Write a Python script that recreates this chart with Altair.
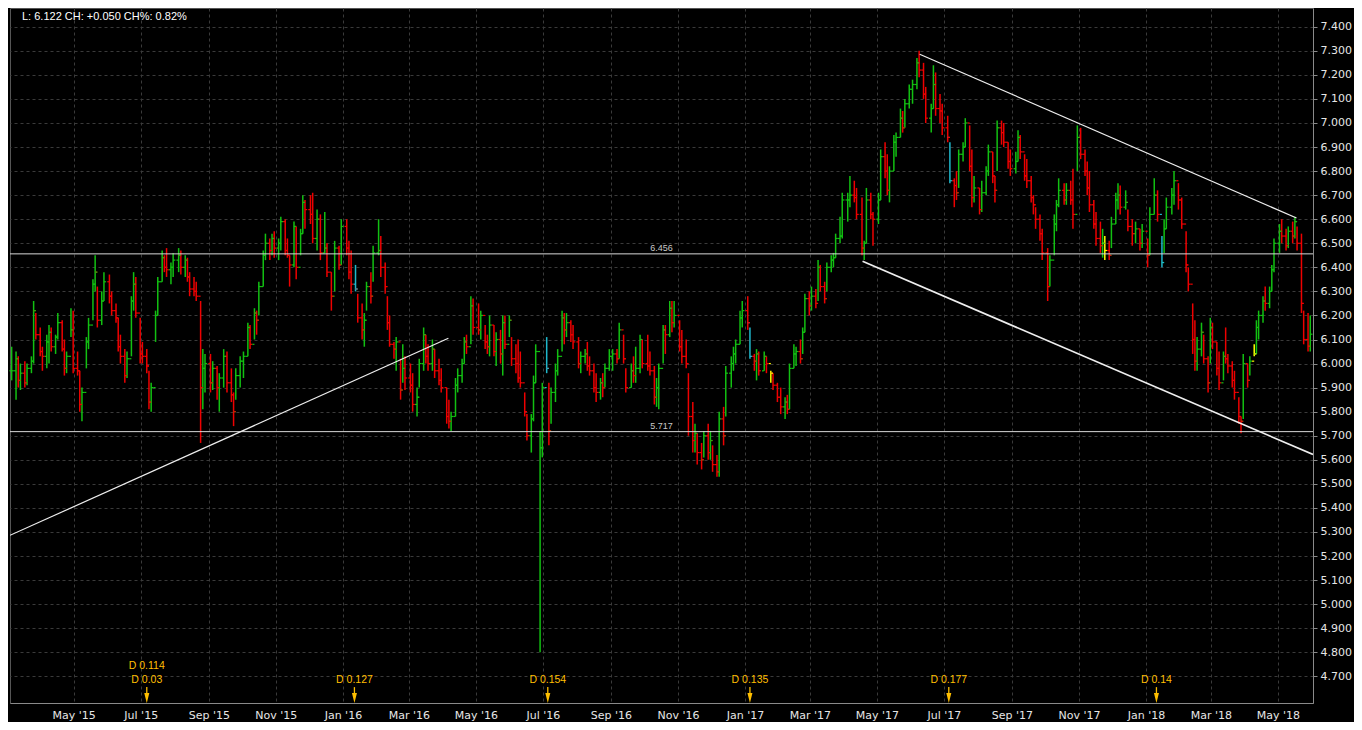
import altair as alt
import pandas as pd

# ---- daily-ish OHLC bars, grouped by month: (high, low, close) in price x 100 ----
b2015_03 = [(607,593,597),(605,585,602),(603,590,593),(600,589,596),(601,590,592),(600,591,598),(603,596,601),(626,600,622),(621,610,612),(615,603,605)]
b2015_04 = [(607,597,603),(612,598,609),(616,600,613),(615,605,607),(612,604,611),(621,610,617),(618,605,606),(610,595,598),(605,596,603),(623,611,614),(622,596,598)]
b2015_05 = [(605,595,597),(597,580,583),(590,576,588),(611,598,609),(619,606,616),(635,618,633),(645,630,638),(632,615,618),(630,616,626),(638,626,634)]
b2015_06 = [(637,625,628),(630,620,622),(625,617,619),(619,605,607),(612,600,603),(606,592,595),(605,594,602),(628,603,626),(638,622,633),(636,619,621),(619,600,604)]
b2015_07 = [(609,600,603),(606,596,599),(597,581,584),(592,580,590),(622,609,620),(636,620,634),(647,634,644),(645,638,640),(648,636,639),(642,633,640),(646,636,643)]
b2015_08 = [(648,638,645),(647,637,640),(645,636,643),(644,634,636),(638,628,631),(636,628,630),(634,626,628),(626,567,590),(606,581,598),(604,588,600)]
b2015_09 = [(604,588,592),(601,589,598),(599,585,590),(596,580,594),(606,590,603),(605,588,592),(598,584,587),(588,574,580),(598,585,595),(603,590,601)]
b2015_10 = [(605,594,603),(617,603,615),(616,606,608),(623,610,621),(622,612,618),(634,620,632),(647,632,645),(654,643,650),(652,643,647),(654,645,652),(655,644,648)]
b2015_11 = [(652,643,650),(661,647,659),(660,645,647),(652,644,645),(645,632,641),(659,640,657),(657,635,640),(656,645,654),(670,654,667),(668,656,664)]
b2015_12 = [(670,658,662),(671,650,652),(664,647,660),(662,643,646),(663,646,648),(650,636,638),(638,622,628),(651,630,648),(649,639,641),(660,641,657)]
b2016_01 = [(660,645,648),(651,635,638),(647,629,633),(641,630,631),(629,617,619),(625,610,614),(621,607,618),(634,622,632),(638,625,628),(649,634,646)]
b2016_02 = [(660,645,647),(653,636,640),(642,629,632),(628,614,617),(620,607,608),(609,602,606),(611,597,609),(602,585,589),(608,592,598),(603,589,594)]
b2016_03 = [(600,588,591),(596,580,583),(590,578,586),(602,590,600),(615,597,612),(612,600,603),(608,597,600),(610,597,606),(606,594,597),(602,591,593),(598,588,590)]
b2016_04 = [(590,575,578),(585,573,576),(580,572,578),(594,578,591),(598,588,595),(602,592,600),(611,600,609),(612,604,607),(628,608,624),(627,612,615)]
b2016_05 = [(625,612,614),(622,610,620),(616,606,609),(612,604,607),(620,603,616),(616,603,605),(613,599,610),(614,600,604),(620,595,617),(620,606,608),(620,611,618)]
b2016_06 = [(611,599,602),(608,596,600),(610,592,594),(605,590,592),(588,578,580),(579,568,570),(579,563,577),(595,576,592),(608,592,605),(572,480,565),(592,561,590)]
b2016_07 = [(611,596,598),(592,566,572),(590,575,588),(600,584,597),(606,595,603),(622,605,619),(621,608,614),(621,611,617),(618,609,612),(616,606,609)]
b2016_08 = [(611,598,600),(605,596,603),(606,600,604),(609,597,599),(603,595,597),(600,588,590),(596,584,588),(594,585,592),(596,586,590),(600,590,598),(606,597,603)]
b2016_09 = [(606,597,604),(606,600,602),(617,602,614),(612,600,602),(598,588,590),(600,590,597),(603,592,595),(607,592,598),(612,596,610),(610,598,600)]
b2016_10 = [(612,597,599),(605,595,597),(599,583,586),(594,582,590),(600,581,598),(616,600,614),(616,604,612),(626,611,623),(626,613,617),(626,615,620)]
b2016_11 = [(618,605,607),(614,600,603),(610,598,600),(596,570,578),(584,563,568),(575,563,571),(571,558,563),(567,556,560),(572,561,570),(575,560,563),(572,560,568)]
b2016_12 = [(566,555,558),(562,553,555),(580,553,577),(582,566,570),(599,578,596),(603,590,600),(607,597,604),(610,600,608),(622,608,619),(626,615,622)]
b2017_01 = [(628,614,617),(615,602,603),(604,597,601),(606,593,604),(605,595,597),(605,597,603),(603,596,600),(597,592,596),(596,589,591),(592,584,586)]
b2017_02 = [(590,579,582),(586,577,584),(587,579,581),(600,581,598),(608,598,604),(607,599,605),(610,600,602),(615,604,613),(629,613,627),(630,620,624)]
b2017_03 = [(632,622,628),(631,623,625),(643,626,640),(641,630,632),(634,625,627),(642,630,640),(645,638,643),(646,640,644),(654,644,652),(661,650,653),(671,652,668)]
b2017_04 = [(671,659,668),(678,665,670),(676,667,669),(673,660,662),(669,645,648),(651,643,650),(673,650,668),(671,660,662),(663,649,660)]
b2017_05 = [(671,658,668),(689,668,686),(692,677,680),(687,670,672),(682,667,680),(695,680,692),(696,686,694),(706,694,702),(705,696,698),(710,698,708),(716,706,714)]
b2017_06 = [(718,708,716),(727,714,725),(730,719,722),(725,710,712),(715,700,702),(708,696,706),(724,706,716),(721,703,706),(712,700,705),(708,695,698)]
b2017_07 = [(703,692,694),(692,675,676),(677,665,674),(680,668,671),(689,673,687),(692,684,690),(702,690,700),(699,680,682),(689,665,669),(678,667,673)]
b2017_08 = [(673,662,664),(676,663,671),(682,670,680),(691,678,688),(688,675,678),(678,667,672),(701,680,698),(701,691,696),(700,690,692),(692,681,684),(689,678,681)]
b2017_09 = [(688,679,684),(697,684,694),(695,685,688),(687,676,678),(685,673,676),(678,667,669),(670,662,666),(665,656,660),(662,651,654),(656,643,646)]
b2017_10 = [(648,626,632),(645,632,643),(662,645,658),(668,655,666),(677,665,672),(675,666,668),(675,666,672),(676,666,668),(681,656,662),(699,680,694)]
b2017_11 = [(698,685,687),(689,678,680),(684,670,673),(680,663,666),(668,656,658),(663,649,652),(659,646,649),(656,644,650),(653,643,647),(651,643,645),(661,648,658)]
b2017_12 = [(671,658,668),(675,664,670),(674,662,665),(672,664,667),(664,655,657),(660,649,654),(659,650,656),(656,647,650),(658,648,655)]
b2018_01 = [(652,640,645),(665,645,662),(677,662,670),(672,659,662),(653,640,642),(660,646,656),(669,656,665),(673,662,670),(680,666,676),(675,664,668)]
b2018_02 = [(669,656,658),(655,638,641),(640,630,633),(625,604,610),(618,597,601),(611,597,606),(617,603,613),(612,600,602),(603,588,592),(619,600,615)]
b2018_03 = [(617,606,609),(609,595,598),(605,589,592),(605,593,603),(615,600,602),(604,596,599),(601,590,593),(597,585,588),(586,575,578),(578,571,576),(604,577,600)]
b2018_04 = [(600,590,593),(603,595,601),(608,603,604),(618,604,615),(622,610,620),(628,617,626),(632,622,625),(632,623,630),(641,630,639),(652,638,650)]
b2018_05 = [(658,646,655),(660,650,653),(656,647,649),(657,648,655),(659,650,653),(661,652,659),(657,647,650),(654,621,625),(622,608,610),(621,605,607.2),(620,605,612.2)]

MONTHS = [
    ("2015-03", b2015_03), ("2015-04", b2015_04), ("2015-05", b2015_05), ("2015-06", b2015_06),
    ("2015-07", b2015_07), ("2015-08", b2015_08), ("2015-09", b2015_09), ("2015-10", b2015_10),
    ("2015-11", b2015_11), ("2015-12", b2015_12), ("2016-01", b2016_01), ("2016-02", b2016_02),
    ("2016-03", b2016_03), ("2016-04", b2016_04), ("2016-05", b2016_05), ("2016-06", b2016_06),
    ("2016-07", b2016_07), ("2016-08", b2016_08), ("2016-09", b2016_09), ("2016-10", b2016_10),
    ("2016-11", b2016_11), ("2016-12", b2016_12), ("2017-01", b2017_01), ("2017-02", b2017_02),
    ("2017-03", b2017_03), ("2017-04", b2017_04), ("2017-05", b2017_05), ("2017-06", b2017_06),
    ("2017-07", b2017_07), ("2017-08", b2017_08), ("2017-09", b2017_09), ("2017-10", b2017_10),
    ("2017-11", b2017_11), ("2017-12", b2017_12), ("2018-01", b2018_01), ("2018-02", b2018_02),
    ("2018-03", b2018_03), ("2018-04", b2018_04), ("2018-05", b2018_05),
]

# bars drawn in a special colour in the reference
SPECIAL = {
    ("2016-01", 3): "cyan", ("2016-06", 9): "up", ("2016-07", 0): "cyan",
    ("2017-01", 1): "cyan", ("2017-01", 7): "yellow", ("2017-07", 1): "cyan",
    ("2017-11", 8): "yellow", ("2018-01", 4): "cyan", ("2018-04", 2): "yellow",
}

# trend lines (start date, start price, end date, end price)
TREND_START = ["2015-03-04", "2017-06-09", "2017-04-18"]
TREND_START_V = [5.286, 7.286, 6.425]
TREND_END = ["2016-04-06", "2018-05-18", "2018-06-02"]
TREND_END_V = [6.105, 6.605, 5.622]
TREND_W = [1.2, 1.2, 1.7]

# horizontal levels
LEVELS = [6.456, 5.717]
LEVEL_LABELS = ["6.456", "5.717"]

# dividends
DIV_DATES = ["2015-07-06", "2016-01-11", "2016-07-05", "2017-01-05", "2017-07-05", "2018-01-10"]
DIV_LABELS = ["D 0.03", "D 0.127", "D 0.154", "D 0.135", "D 0.177", "D 0.14"]
DIV_EXTRA_DATE = ["2015-07-06"]
DIV_EXTRA_LABEL = ["D 0.114"]

HEADER = "L: 6.122 CH: +0.050 CH%: 0.82%"

# ---- build bar table ----
rows = []
prev = None
for key, bars in MONTHS:
    start = pd.Timestamp(key + "-01")
    end = start + pd.offsets.MonthEnd(0)
    if key == "2015-03":
        start = pd.Timestamp("2015-03-04")
    if key == "2018-05":
        end = pd.Timestamp("2018-05-30")
    days = pd.bdate_range(start, end)
    n = len(bars)
    for i, (h, l, c) in enumerate(bars):
        d = days[int((i + 0.5) * len(days) / n)]
        o = prev if prev is not None else c
        kind = SPECIAL.get((key, i), "up" if c >= o else "down")
        rows.append({"date": d.strftime("%Y-%m-%dT12:00:00"), "high": h / 100, "low": l / 100,
                     "close": c / 100, "open": o / 100, "kind": kind})
        prev = c
bars_df = pd.DataFrame(rows)

trend_df = pd.DataFrame({"d1": [s + "T00:00:00" for s in TREND_START], "v1": TREND_START_V,
                         "d2": [s + "T00:00:00" for s in TREND_END], "v2": TREND_END_V, "w": TREND_W})
level_df = pd.DataFrame({"v": LEVELS, "lab": LEVEL_LABELS, "d": ["2016-10-17T00:00:00"] * len(LEVELS)})
div_df = pd.DataFrame({"d": [s + "T12:00:00" for s in DIV_DATES], "lab": DIV_LABELS})
div_extra_df = pd.DataFrame({"d": [s + "T12:00:00" for s in DIV_EXTRA_DATE], "lab": DIV_EXTRA_LABEL})
head_df = pd.DataFrame({"t": [HEADER]})

# ---- scales / axes ----
XDOM = [alt.DateTime(year=2015, month=3, date=4), alt.DateTime(year=2018, month=6, date=2)]
xs = alt.Scale(domain=XDOM, nice=False)
ys = alt.Scale(domain=[4.589, 7.478], nice=False, zero=False)

tick_dates = []
for yr in (2015, 2016, 2017, 2018):
    for mo in (1, 3, 5, 7, 9, 11):
        if (yr, mo) >= (2015, 5) and (yr, mo) <= (2018, 5):
            tick_dates.append(alt.DateTime(year=yr, month=mo, date=1))
y_ticks = [round(4.7 + 0.1 * k, 1) for k in range(28)]

x_axis = alt.Axis(values=tick_dates, labelExpr="timeFormat(datum.value, \"%b '%y\")", title=None,
                  grid=True, gridColor="#3a3a3a", gridDash=[3, 3], ticks=False, labelPadding=6,
                  domainColor="#8a8a8a", labelColor="#e6e6e6", labelFont="DejaVu Sans", labelFontSize=11)
y_axis = alt.Axis(values=y_ticks, format=".3f", orient="right", title=None, grid=True,
                  gridColor="#3a3a3a", gridDash=[3, 3], tickColor="#8a8a8a", tickSize=4,
                  labelPadding=3, domainColor="#8a8a8a", labelColor="#e6e6e6",
                  labelFont="DejaVu Sans", labelFontSize=11)

color = alt.Color("kind:N", legend=None,
                  scale=alt.Scale(domain=["up", "down", "cyan", "yellow"],
                                  range=["#12c012", "#ee0000", "#1fb8cc", "#ffff00"]))


def X(field):
    return alt.X(field, type="temporal", scale=xs, axis=x_axis)


def Y(field):
    return alt.Y(field, type="quantitative", scale=ys, axis=y_axis)


def YD(v):
    return alt.YDatum(v, scale=ys, axis=y_axis)


BW = 1.5
base = alt.Chart(bars_df)
hl = base.mark_rule(strokeWidth=BW).encode(x=X("date"), y=Y("low"), y2="high:Q", color=color)
open_tick = base.mark_rule(strokeWidth=1.2, xOffset=-2.2, x2Offset=0).encode(
    x=X("date"), x2="date:T", y=Y("open"), color=color)
close_tick = base.mark_rule(strokeWidth=1.2, xOffset=0, x2Offset=2.2).encode(
    x=X("date"), x2="date:T", y=Y("close"), color=color)

levels = alt.Chart(level_df).mark_rule(color="#d8d8d8", strokeWidth=1).encode(y=Y("v"))
level_text = alt.Chart(level_df).mark_text(color="#c8c8c8", fontSize=9, font="Liberation Sans", dy=-6).encode(
    x=X("d"), y=Y("v"), text="lab:N")

trends = alt.Chart(trend_df).mark_rule(color="#eeeeee", clip=True).encode(
    x=X("d1"), x2="d2:T", y=Y("v1"), y2="v2:Q",
    strokeWidth=alt.StrokeWidth("w:Q", scale=None))

DIV_COL = "#ffbf00"
div_line = alt.Chart(div_df).mark_rule(color=DIV_COL, strokeWidth=1.3).encode(
    x=X("d"), y=YD(4.655), y2=alt.Y2Datum(4.615))
div_head = alt.Chart(div_df).mark_point(shape="M-0.5,-1L0.5,-1L0,1Z", filled=True, size=100,
                                        color=DIV_COL, opacity=1).encode(x=X("d"), y=YD(4.610))
div_text = alt.Chart(div_df).mark_text(color=DIV_COL, fontSize=10.5, font="Liberation Sans").encode(
    x=X("d"), y=YD(4.684), text="lab:N")
div_text2 = alt.Chart(div_extra_df).mark_text(color=DIV_COL, fontSize=10.5, font="Liberation Sans").encode(
    x=X("d"), y=YD(4.741), text="lab:N")

header = alt.Chart(head_df).mark_text(align="left", baseline="middle", color="#ffffff",
                                      fontSize=11, font="Liberation Sans").encode(
    x=alt.value(12), y=alt.value(9), text="t:N")

chart = alt.layer(
    hl, open_tick, close_tick, levels, level_text, trends,
    div_line, div_head, div_text, div_text2, header,
).properties(
    width=1346, height=714, background="#000000",
    autosize=alt.AutoSizeParams(type="fit", contains="padding"),
    padding={"left": 0, "top": 0, "right": 2, "bottom": 2},
).configure_view(fill="#000000", stroke="#555555", strokeWidth=1)

chart.save("out.html", embed_options={"renderer": "svg", "actions": False})
